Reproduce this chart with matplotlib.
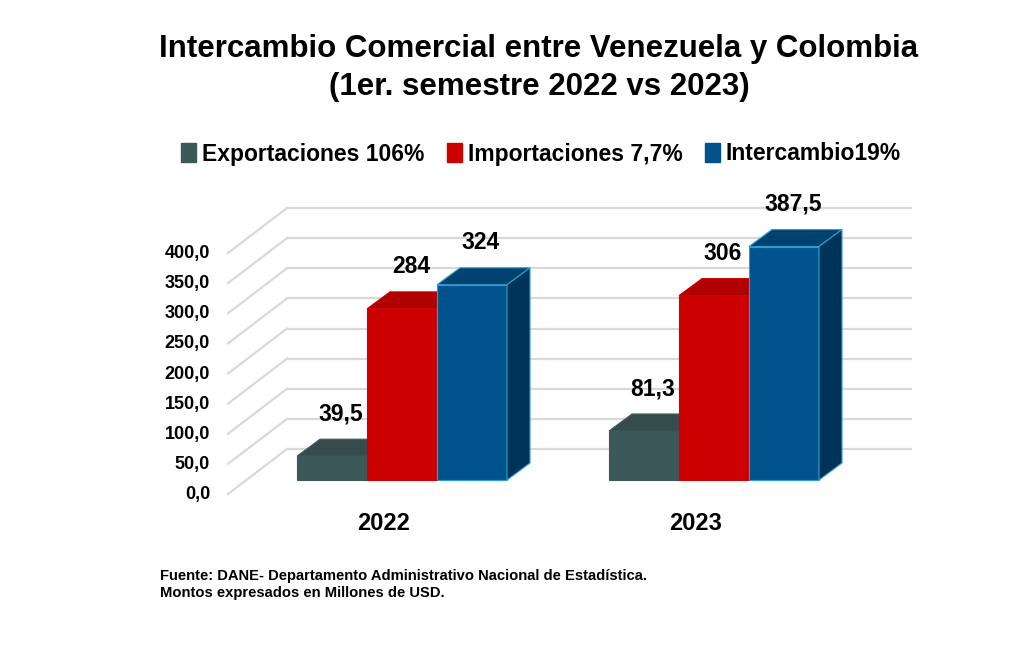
import matplotlib
matplotlib.use("Agg")
import matplotlib.pyplot as plt
from matplotlib.patches import Polygon, Patch
import numpy as np

# ---- data ----
years = ["2022", "2023"]
series_names = ["Exportaciones 106%", "Importaciones 7,7%", "Intercambio19%"]
exportaciones = [39.5, 81.3]
importaciones = [284, 306]
intercambio = [324, 387.5]
value_labels = [["39,5", "81,3"], ["284", "306"], ["324", "387,5"]]
yticks = [0, 50, 100, 150, 200, 250, 300, 350, 400]
ytick_labels = ["0,0", "50,0", "100,0", "150,0", "200,0", "250,0", "300,0", "350,0", "400,0"]

front_colors = ["#3d5858", "#cc0000", "#00538a"]
top_colors = ["#344c4c", "#b00000", "#00426f"]
side_colors = ["#2c4040", "#990000", "#003358"]
edge_colors = ["#3d5858", "#cc0000", "#2a9fd6"]

FONT = ["Liberation Sans", "DejaVu Sans"]
plt.rcParams["font.family"] = FONT
plt.rcParams["font.weight"] = "bold"

W, H = 1024, 649
fig = plt.figure(figsize=(W / 100, H / 100), dpi=100)
fig.patch.set_facecolor("white")

# axes = front plane of the 3D box
ax_l, ax_r, ax_t, ax_b = 228, 852, 253, 494
ax = fig.add_axes([ax_l / W, (H - ax_b) / H, (ax_r - ax_l) / W, (ax_b - ax_t) / H])
ax.set_xlim(-0.5, 1.5)
ax.set_ylim(0, 400)
ax.axis("off")

sx = (ax_r - ax_l) / 2.0      # px per x unit
sy = (ax_b - ax_t) / 400.0    # px per y unit

def off(px, py):
    return px / sx, py / sy

wall_dx, wall_dy = off(59, 45)
bf_dx, bf_dy = off(18, 14)
bb_dx, bb_dy = off(41, 31)
dep_dx, dep_dy = bb_dx - bf_dx, bb_dy - bf_dy

# gridlines on back wall + left wall diagonals
grid_c = "#d9d9d9"
for v in yticks:
    ax.plot([-0.5 + wall_dx, 1.5 + wall_dx], [v + wall_dy] * 2, color=grid_c, lw=1.6,
            clip_on=False, zorder=1)
    ax.plot([-0.5, -0.5 + wall_dx], [v, v + wall_dy], color=grid_c, lw=1.6,
            clip_on=False, zorder=1)

# tick labels at front plane
for v, lab in zip(yticks, ytick_labels):
    ax.text(-0.5 - 18 / sx, v - 0.5 / sy, lab, ha="right", va="center", fontsize=13,
            fontweight="bold", clip_on=False)

# bars
x = np.arange(len(years))
width = 70 / sx
series = [exportaciones, importaciones, intercambio]
offsets = [-width, 0, width]
z = 3
for gi in range(len(years)):
    for si, vals in enumerate(series):
        xc = x[gi] + offsets[si] + bf_dx
        v = vals[gi]
        x0, x1 = xc - width / 2, xc + width / 2
        ax.bar(xc, v, width, bottom=bf_dy, color=front_colors[si],
               edgecolor=edge_colors[si], linewidth=0.8, clip_on=False, zorder=z)
        top = Polygon([(x0, v + bf_dy), (x1, v + bf_dy), (x1 + dep_dx, v + bf_dy + dep_dy),
                       (x0 + dep_dx, v + bf_dy + dep_dy)], closed=True,
                      facecolor=top_colors[si], edgecolor=edge_colors[si], lw=0.8,
                      clip_on=False, zorder=z)
        ax.add_patch(top)
        side = Polygon([(x1, bf_dy), (x1 + dep_dx, bf_dy + dep_dy),
                        (x1 + dep_dx, v + bf_dy + dep_dy), (x1, v + bf_dy)], closed=True,
                       facecolor=side_colors[si], edgecolor=edge_colors[si], lw=0.8,
                       clip_on=False, zorder=z)
        ax.add_patch(side)
        ax.text(xc + 9 / sx, v + bb_dy + 14 / sy, value_labels[si][gi],
                ha="center", va="bottom", fontsize=16.5, fontweight="bold",
                clip_on=False, zorder=10)
        z += 1

# category labels
for gi, yr in enumerate(years):
    ax.text(x[gi], -30 / sy, yr, ha="center", va="center", fontsize=17,
            fontweight="bold", clip_on=False)

# title
fig.text(539 / W, 1 - 68 / H,
         "Intercambio Comercial entre Venezuela y Colombia\n(1er. semestre 2022 vs 2023)",
         ha="center", va="center", fontsize=22.5, fontweight="bold", linespacing=1.35)

# legend
handles = [Patch(facecolor=c, edgecolor=c) for c in front_colors]
fig.legend(handles, series_names, loc="center", ncol=3,
           bbox_to_anchor=(541 / W, 1 - 154 / H), frameon=False,
           prop={"size": 16.5, "weight": "bold"}, handlelength=0.65, handleheight=0.85,
           handletextpad=0.25, columnspacing=1.0)

# footnote
fig.text(160 / W, 1 - 576 / H, "Fuente: DANE- Departamento Administrativo Nacional de Estadística.",
         ha="left", va="center", fontsize=10.6, fontweight="bold")
fig.text(160 / W, 1 - 593 / H, "Montos expresados en Millones de USD.",
         ha="left", va="center", fontsize=10.6, fontweight="bold")

fig.savefig("out.png", dpi=100, facecolor="white")
